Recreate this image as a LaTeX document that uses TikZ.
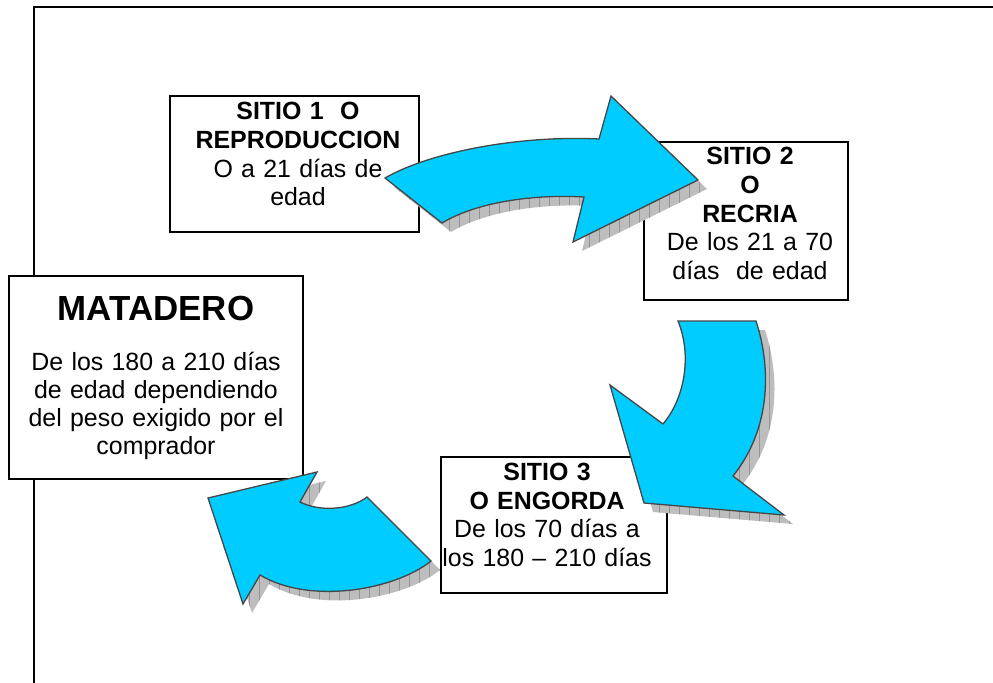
\documentclass[tikz,border=0pt]{standalone}
\usepackage{fontspec}
\setmainfont{Liberation Sans}
\definecolor{arrowcyan}{RGB}{0,204,255}
\definecolor{arrowedge}{RGB}{70,70,70}
\newcommand\arrowpathA{(385,178) .. controls (430,152) and (520,135) .. (599,139)
  -- (611,96) -- (698,180) -- (573,242) -- (584,197)
  .. controls (530,194) and (475,203) .. (442,223) -- cycle}
\newcommand\arrowpathB{(678,321) -- (756,321) .. controls (772,370) and (770,430) .. (733,476)
  -- (784,515) -- (644,503) -- (610,385) -- (663,424)
  .. controls (685,398) and (692,355) .. (678,321) -- cycle}
\newcommand\arrowpathC{(367,497) -- (431,561) .. controls (395,590) and (310,605) .. (260,575)
  -- (243,604) -- (208,498) -- (317,472) -- (300,502)
  .. controls (320,512) and (350,510) .. (367,497) -- cycle}
\begin{document}
\begin{tikzpicture}[x=1bp,y=-1bp,
  boxst/.style={draw=black, line width=1.4bp, fill=white, inner sep=0},
  txt/.style={anchor=base, inner sep=0, align=center, font=\fontsize{25}{28.75}\selectfont},
  arrowst/.style={fill=arrowcyan, draw=arrowedge, line width=1.3bp, line join=miter},
  shadowfill/.style={fill=black!26},
  shadowgrid/.style={draw=black!42, line width=0.6bp}]
\useasboundingbox (0,0) rectangle (993,683);
% frame
\coordinate (fr) at (993,7);
\coordinate (ftl) at (34,7);
\coordinate (fbl) at (34,683);
\draw[line width=1.5bp] (fr) -- (ftl) -- (fbl);
% boxes
\node[boxst, minimum width=249bp, minimum height=136bp] (b1) at (294.5,164) {};
\node[boxst, minimum width=204bp, minimum height=158bp] (b2) at (746,221) {};
\node[boxst, minimum width=294bp, minimum height=203bp] (bm) at (156,377.5) {};
\node[boxst, minimum width=226bp, minimum height=136bp] (b3) at (554,525) {};
% shadows
\begin{scope}[shift={(9,9)}]
  \begin{scope}
    \clip \arrowpathA;
    \fill[shadowfill] (370,80) rectangle (720,260);
    \draw[shadowgrid, xstep=10, ystep=10] (370,80) grid (720,260);
  \end{scope}
  \begin{scope}
    \clip \arrowpathB;
    \fill[shadowfill] (600,310) rectangle (800,530);
    \draw[shadowgrid, xstep=10, ystep=10] (600,310) grid (800,530);
  \end{scope}
  \begin{scope}
    \clip \arrowpathC;
    \fill[shadowfill] (200,460) rectangle (440,610);
    \draw[shadowgrid, xstep=10, ystep=10] (200,460) grid (440,610);
  \end{scope}
\end{scope}
% arrows
\draw[arrowst] \arrowpathA;
\draw[arrowst] \arrowpathB;
\draw[arrowst] \arrowpathC;
% texts
\node[txt, text width=260bp] (t1) at (298,120) {\textbf{SITIO 1\ \ O}\\\textbf{REPRODUCCION}\\O a 21 días de\\edad};
\node[txt, text width=200bp] (t2) at (750,165) {\textbf{SITIO 2}\\\textbf{O}\\\textbf{RECRIA}\\De los 21 a 70\\días\ \ de edad};
\node[txt, text width=290bp, font=\fontsize{35}{40}\selectfont\bfseries] (tm1) at (156,320) {MATADERO};
\node[txt, text width=290bp, font=\fontsize{25}{28.4}\selectfont] (tm2) at (156,370) {De los 180 a 210 días\\de edad dependiendo\\del peso exigido por el\\comprador};
\node[txt, text width=225bp] (t3) at (547,480.7) {\textbf{SITIO 3}\\\textbf{O ENGORDA}\\De los 70 días a\\los 180 – 210 días};
\end{tikzpicture}
\end{document}
